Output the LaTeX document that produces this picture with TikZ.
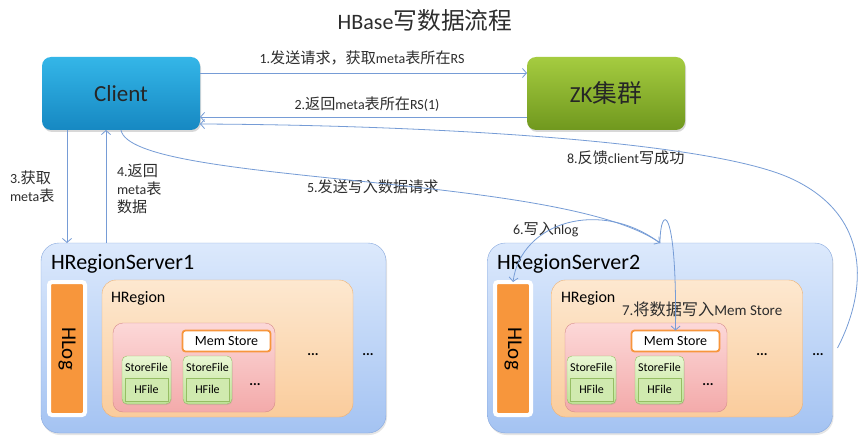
\documentclass[tikz,border=0pt]{standalone}
\usepackage{fontspec}
\setmainfont{Carlito}
\newfontfamily\cjk[Scale=1.08]{Noto Sans CJK SC}
\newcommand{\zh}[1]{{\cjk #1}}
\usetikzlibrary{arrows.meta,shadows}
\definecolor{linkblue}{RGB}{118,156,214}
\definecolor{txtgray}{RGB}{45,45,45}
\definecolor{clientTop}{RGB}{52,182,232}
\definecolor{clientBot}{RGB}{22,136,194}
\definecolor{zkTop}{RGB}{165,204,64}
\definecolor{zkBot}{RGB}{112,152,30}
\definecolor{rsTop}{RGB}{220,233,252}
\definecolor{rsBot}{RGB}{164,195,242}
\definecolor{rsLine}{RGB}{135,168,222}
\definecolor{regTop}{RGB}{253,232,208}
\definecolor{regBot}{RGB}{250,204,156}
\definecolor{regLine}{RGB}{238,176,112}
\definecolor{storeTop}{RGB}{252,216,216}
\definecolor{storeBot}{RGB}{243,170,170}
\definecolor{storeLine}{RGB}{214,140,140}
\definecolor{sfTop}{RGB}{234,247,212}
\definecolor{sfBot}{RGB}{190,226,150}
\definecolor{sfLine}{RGB}{150,190,100}
\definecolor{logOrange}{RGB}{247,150,60}
\begin{document}
\begin{tikzpicture}[x=1pt,y=-1pt,
    every node/.style={inner sep=0pt,outer sep=0pt},
    link/.style={draw=linkblue,line width=0.8pt,-{Straight Barb[length=4pt,width=9pt]}},
    lbl/.style={text=txtgray,font=\fontsize{14}{18}\selectfont,align=left},
    topbox/.style={rounded corners=9pt,minimum width=158pt,minimum height=73pt,
      font=\fontsize{23}{26}\selectfont,text=black!85,
      drop shadow={opacity=0.3,shadow xshift=1pt,shadow yshift=-2pt}},
    serverbox/.style={rounded corners=18pt,draw=rsLine,top color=rsTop,bottom color=rsBot,
      minimum width=345pt,minimum height=190pt,
      drop shadow={opacity=0.2,shadow xshift=1pt,shadow yshift=-2pt}},
    servername/.style={anchor=west,font=\fontsize{22}{24}\selectfont},
    hlogbox/.style={fill=logOrange,draw=white,line width=4pt,rounded corners=3pt,
      minimum width=36pt,minimum height=133pt,
      drop shadow={opacity=0.25,shadow xshift=0.5pt,shadow yshift=-1pt}},
    regionbox/.style={rounded corners=14pt,draw=regLine,top color=regTop,bottom color=regBot,
      minimum width=251pt,minimum height=137pt},
    regionname/.style={anchor=west,font=\fontsize{16}{18}\selectfont},
    storebox/.style={rounded corners=10pt,draw=storeLine,top color=storeTop,bottom color=storeBot,
      minimum width=162pt,minimum height=89pt},
    membox/.style={rounded corners=3pt,draw=logOrange,line width=1.8pt,fill=white,
      minimum width=88pt,minimum height=21pt,font=\fontsize{14}{16}\selectfont},
    sfbox/.style={rounded corners=5pt,draw=sfLine,top color=sfTop,bottom color=sfBot,
      minimum width=49pt,minimum height=48pt,
      drop shadow={opacity=0.2,shadow xshift=0.5pt,shadow yshift=-1pt}},
    sfname/.style={font=\fontsize{12}{14}\selectfont},
    hfbox/.style={draw=sfLine,fill=sfTop!40!sfBot,minimum width=43pt,minimum height=23pt,
      font=\fontsize{12}{14}\selectfont},
    dots/.style={font=\bfseries\fontsize{14}{16}\selectfont}
  ]
  \useasboundingbox[fill=white] (0,0) rectangle (867,441);

  % title
  \node[text=txtgray,font=\fontsize{22}{24}\selectfont] (title) at (425,20) {HBase\zh{写数据流程}};

  % client and zookeeper
  \node[topbox,top color=clientTop,bottom color=clientBot] (client) at (121,93.5) {Client};
  \node[topbox,top color=zkTop,bottom color=zkBot] (zk) at (606,93.5) {ZK\zh{集群}};

  % region server 1
  \node[serverbox] (rs1) at (213.5,338) {};
  \node[servername] (rs1name) at (51,264) {HRegionServer1};
  \node[hlogbox] (hlog1) at (67,348.5) {};
  \node[rotate=-90,font=\fontsize{21}{24}\selectfont] (hlog1txt) at (hlog1) {HLog};
  \node[regionbox] (reg1) at (227.5,348.5) {};
  \node[regionname] (reg1name) at (111,298) {HRegion};
  \node[storebox] (store1) at (194,367.5) {};
  \node[membox] (mem1) at (226.5,341) {Mem Store};
  \node[sfbox] (sf1a) at (146.5,380) {};
  \node[sfname] (sf1atxt) at (146.5,367) {StoreFile};
  \node[hfbox] (hf1a) at (146.5,389.5) {HFile};
  \node[sfbox] (sf1b) at (207.5,380) {};
  \node[sfname] (sf1btxt) at (207.5,367) {StoreFile};
  \node[hfbox] (hf1b) at (207.5,389.5) {HFile};
  \node[dots] (dot1a) at (255,385) {...};
  \node[dots] (dot1b) at (313,355) {...};
  \node[dots] (dot1c) at (368,355) {...};

  % region server 2
  \node[serverbox] (rs2) at (660,338) {};
  \node[servername] (rs2name) at (497,264) {HRegionServer2};
  \node[hlogbox] (hlog2) at (513,348.5) {};
  \node[rotate=-90,font=\fontsize{21}{24}\selectfont] (hlog2txt) at (hlog2) {HLog};
  \node[regionbox] (reg2) at (677,348.5) {};
  \node[regionname] (reg2name) at (561,298) {HRegion};
  \node[storebox] (store2) at (646,367.5) {};
  \node[membox] (mem2) at (675.5,341) {Mem Store};
  \node[sfbox] (sf2a) at (591.5,380) {};
  \node[sfname] (sf2atxt) at (591.5,367) {StoreFile};
  \node[hfbox] (hf2a) at (591.5,389.5) {HFile};
  \node[sfbox] (sf2b) at (659.5,380) {};
  \node[sfname] (sf2btxt) at (659.5,367) {StoreFile};
  \node[hfbox] (hf2b) at (659.5,389.5) {HFile};
  \node[dots] (dot2a) at (708,385) {...};
  \node[dots] (dot2b) at (762,355) {...};
  \node[dots] (dot2c) at (818,355) {...};

  % labels
  \node[lbl] (lab1) at (362,58) {1.\zh{发送请求，获取}meta\zh{表所在}RS};
  \node[lbl] (lab2) at (367,104) {2.\zh{返回}meta\zh{表所在}RS(1)};
  \node[lbl,anchor=west] (lab3) at (10,187) {3.\zh{获取}\\meta\zh{表}};
  \node[lbl,anchor=west] (lab4) at (117,189) {4.\zh{返回}\\meta\zh{表}\\\zh{数据}};
  \node[lbl,anchor=west] (lab5) at (307,187) {5.\zh{发送写入数据请求}};
  \node[lbl,anchor=west] (lab6) at (513,230) {6.\zh{写入}hlog};
  \node[lbl,anchor=west,font=\fontsize{15}{18}\selectfont] (lab7) at (622,309) {7.\zh{将数据写入}Mem Store};
  \node[lbl,anchor=west] (lab8) at (567,158) {8.\zh{反馈}client\zh{写成功}};

  \coordinate (bend8) at (790,178);

  % connectors
  \draw[link] ([yshift=20.5pt]client.east) -- ([yshift=20.5pt]zk.west);
  \draw[link] ([yshift=-23.5pt]zk.west) -- ([yshift=-23.5pt]client.east);
  \draw[link] (hlog1 |- client.south) -- (hlog1 |- rs1.north);
  \draw[link] ([xshift=39pt]hlog1 |- rs1.north) -- ([xshift=39pt]hlog1 |- client.south);
  \draw[link] (client.south) .. controls +(10,55) and +(-100,-70) .. (rs2.north);
  \draw[link] (rs2.north) .. controls +(-60,-45) and +(8,-60) .. (hlog2.north);
  \draw[link] (rs2.north) .. controls +(0,-38) and +(1.5,-130) .. (mem2.north);
  \draw[link] ([xshift=5pt,yshift=-10pt]rs2.east) .. controls +(30,-58) and +(82,37) .. (bend8)
    .. controls +(-85,-38) and +(220,1) .. ([yshift=-30.5pt]client.east);
\end{tikzpicture}
\end{document}
